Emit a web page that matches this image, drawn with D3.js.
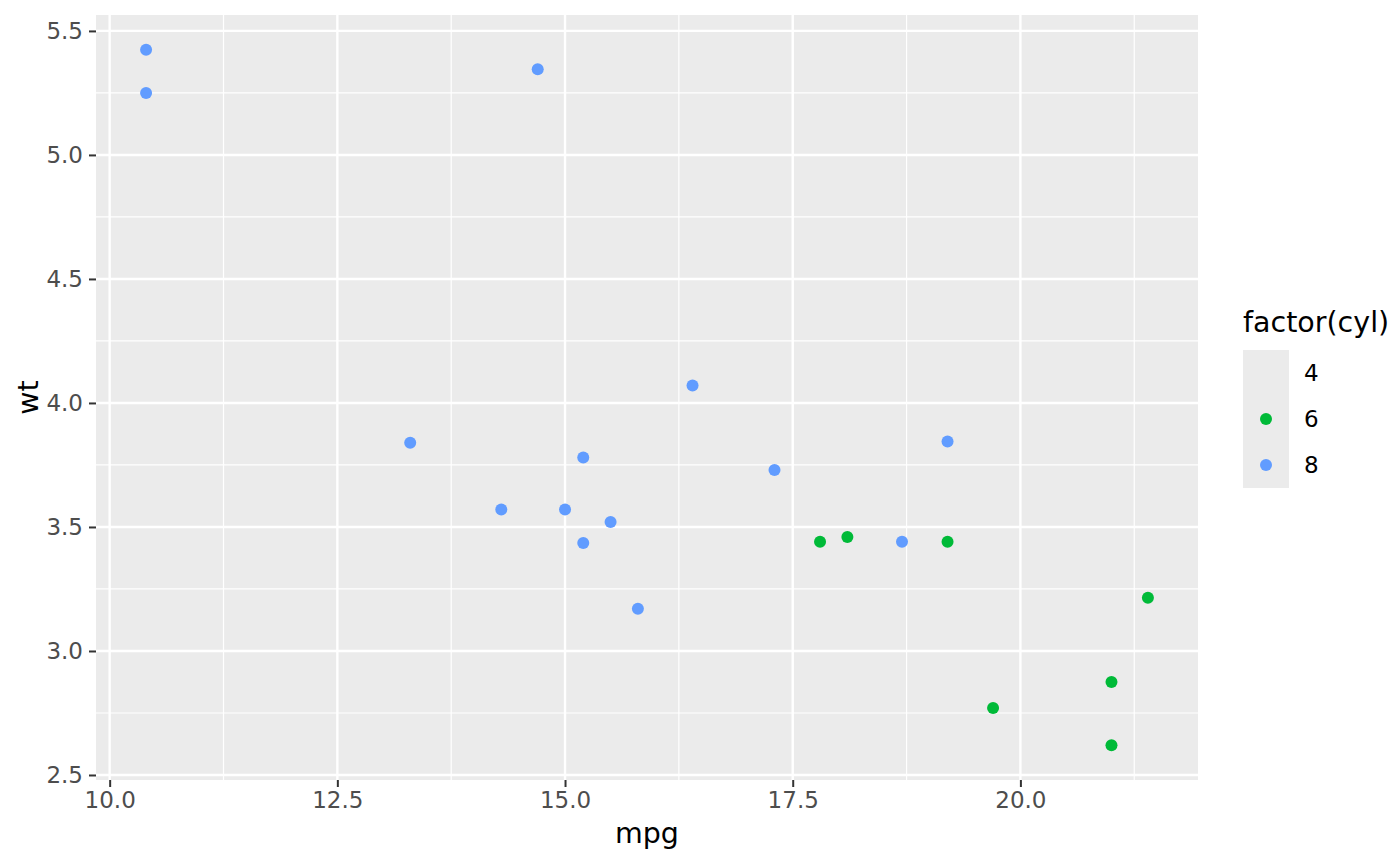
<!DOCTYPE html>
<html>
<head>
<meta charset="utf-8">
<script src="https://cdn.jsdelivr.net/npm/d3@7"></script>
<style>
  body { margin: 0; background: #fff; }
  text { font-family: "DejaVu Sans", sans-serif; }
</style>
</head>
<body>
<svg id="chart" width="1400" height="866"></svg>
<script>
// mtcars, 6 and 8 cylinder cars
const mpg6 = [21.0, 21.0, 21.4, 18.1, 19.2, 17.8, 19.7];
const wt6 = [2.620, 2.875, 3.215, 3.460, 3.440, 3.440, 2.770];
const mpg8 = [18.7, 14.3, 16.4, 17.3, 15.2, 10.4, 10.4, 14.7, 15.5, 15.2, 13.3, 19.2, 15.8, 15.0];
const wt8 = [3.440, 3.570, 4.070, 3.730, 3.780, 5.250, 5.424, 5.345, 3.520, 3.435, 3.840, 3.845, 3.170, 3.570];
const cylLevels = ["4", "6", "8"];
const cylColors = [null, "#00BA38", "#619CFF"];
const xTicks = [10.0, 12.5, 15.0, 17.5, 20.0];
const yTicks = [2.5, 3.0, 3.5, 4.0, 4.5, 5.0, 5.5];

const points = [
  ...mpg6.map((m, i) => ({ mpg: m, wt: wt6[i], cyl: "6" })),
  ...mpg8.map((m, i) => ({ mpg: m, wt: wt8[i], cyl: "8" }))
];

const panel = { left: 96, right: 1198, top: 15, bottom: 780 };
const svg = d3.select("#chart");

// ggplot style 5% expansion
const xExt = d3.extent(points, d => d.mpg);
const yExt = d3.extent(points, d => d.wt);
const xPad = (xExt[1] - xExt[0]) * 0.05;
const yPad = (yExt[1] - yExt[0]) * 0.05;

const xScale = d3.scaleLinear()
    .domain([xExt[0] - xPad, xExt[1] + xPad])
    .range([panel.left, panel.right]);
const yScale = d3.scaleLinear()
    .domain([yExt[0] - yPad, yExt[1] + yPad])
    .range([panel.bottom, panel.top]);
const color = d3.scaleOrdinal().domain(cylLevels).range(cylColors);

// panel background
svg.append("rect")
    .attr("x", panel.left)
    .attr("y", panel.top)
    .attr("width", panel.right - panel.left)
    .attr("height", panel.bottom - panel.top)
    .attr("fill", "#EBEBEB");

// minor grid lines (midpoints between major ticks)
const xMinor = xTicks.slice(0, -1).map((t, i) => (t + xTicks[i + 1]) / 2);
const yMinor = yTicks.slice(0, -1).map((t, i) => (t + yTicks[i + 1]) / 2);
xMinor.push(xTicks[xTicks.length - 1] + 1.25);
yMinor.push(yTicks[0] - 0.25);

const grid = svg.append("g");
grid.selectAll(".xminor")
    .data(xMinor.filter(v => v >= xScale.domain()[0] && v <= xScale.domain()[1]))
    .enter().append("line")
    .attr("x1", d => xScale(d)).attr("x2", d => xScale(d))
    .attr("y1", panel.top).attr("y2", panel.bottom)
    .attr("stroke", "#fff").attr("stroke-width", 1.2);
grid.selectAll(".yminor")
    .data(yMinor.filter(v => v >= yScale.domain()[0] && v <= yScale.domain()[1]))
    .enter().append("line")
    .attr("y1", d => yScale(d)).attr("y2", d => yScale(d))
    .attr("x1", panel.left).attr("x2", panel.right)
    .attr("stroke", "#fff").attr("stroke-width", 1.2);

// major grid lines
grid.selectAll(".xmajor")
    .data(xTicks)
    .enter().append("line")
    .attr("x1", d => xScale(d)).attr("x2", d => xScale(d))
    .attr("y1", panel.top).attr("y2", panel.bottom)
    .attr("stroke", "#fff").attr("stroke-width", 2.4);
grid.selectAll(".ymajor")
    .data(yTicks)
    .enter().append("line")
    .attr("y1", d => yScale(d)).attr("y2", d => yScale(d))
    .attr("x1", panel.left).attr("x2", panel.right)
    .attr("stroke", "#fff").attr("stroke-width", 2.4);

// axes
const xAxis = svg.append("g")
    .attr("transform", `translate(0, ${panel.bottom})`)
    .call(d3.axisBottom(xScale).tickValues(xTicks).tickFormat(d3.format(".1f")).tickSize(7).tickPadding(5));
const yAxis = svg.append("g")
    .attr("transform", `translate(${panel.left}, 0)`)
    .call(d3.axisLeft(yScale).tickValues(yTicks).tickFormat(d3.format(".1f")).tickSize(7).tickPadding(6));

[xAxis, yAxis].forEach(ax => {
    ax.select(".domain").remove();
    ax.selectAll(".tick line").attr("stroke", "#333").attr("stroke-width", 2);
    ax.selectAll(".tick text")
        .attr("fill", "#4D4D4D")
        .style("font-size", "23px")
        .style("font-family", "DejaVu Sans");
});

// points
svg.append("g").selectAll("circle")
    .data(points)
    .enter().append("circle")
    .attr("cx", d => xScale(d.mpg))
    .attr("cy", d => yScale(d.wt))
    .attr("r", 6)
    .attr("fill", d => color(d.cyl));

// axis titles
svg.append("text")
    .attr("x", (panel.left + panel.right) / 2)
    .attr("y", 843)
    .attr("text-anchor", "middle")
    .style("font-size", "28.5px")
    .text("mpg");
svg.append("text")
    .attr("transform", `translate(38, ${(panel.top + panel.bottom) / 2}) rotate(-90)`)
    .attr("text-anchor", "middle")
    .style("font-size", "28.5px")
    .text("wt");

// legend
const legend = svg.append("g");
legend.append("text")
    .attr("x", 1243)
    .attr("y", 332)
    .style("font-size", "28.5px")
    .text("factor(cyl)");
const keyH = 46;
const rows = legend.selectAll(".key")
    .data(cylLevels)
    .enter().append("g")
    .attr("transform", (d, i) => `translate(1243, ${350 + i * keyH})`);
rows.append("rect")
    .attr("width", 46).attr("height", keyH)
    .attr("fill", "#EBEBEB");
rows.filter(d => color(d))
    .append("circle")
    .attr("cx", 23).attr("cy", keyH / 2).attr("r", 6)
    .attr("fill", d => color(d));
rows.append("text")
    .attr("x", 61)
    .attr("y", keyH / 2)
    .attr("dy", "0.36em")
    .style("font-size", "23px")
    .text(d => d);
</script>
</body>
</html>
